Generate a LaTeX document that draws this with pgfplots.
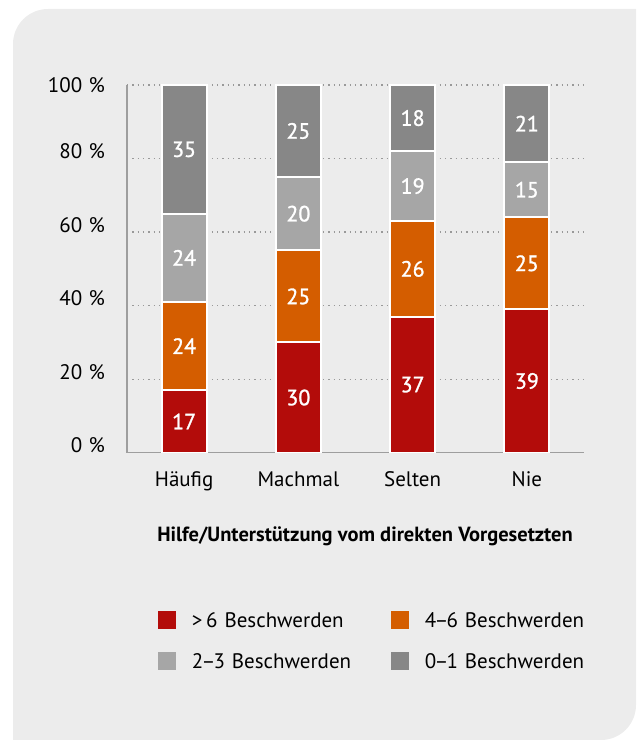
\documentclass[border=0pt]{standalone}
\usepackage{fontspec}
\setmainfont{PT Sans}
\newfontfamily\lblfont{PT Sans}[FakeBold=1.2]
\usepackage{pgfplots}
\pgfplotsset{compat=1.18}
\definecolor{panel}{HTML}{ECECEC}
\definecolor{cred}{HTML}{B30C0A}
\definecolor{corange}{HTML}{D45D00}
\definecolor{clight}{HTML}{A6A6A6}
\definecolor{cdark}{HTML}{878787}
\definecolor{axgray}{HTML}{9E9E9E}
\definecolor{gridgray}{HTML}{999999}
\newcommand{\ds}{\kern-0.09em--\kern-0.09em}
\begin{document}
\begin{tikzpicture}[font=\fontsize{21bp}{25bp}\selectfont]
\useasboundingbox (0,0) rectangle (638bp,740bp);
\fill[panel] (13bp,0bp) -- (13bp,696bp) arc[start angle=180,end angle=90,radius=35bp]
  -- (636bp,731bp) -- (636bp,35bp) arc[start angle=0,end angle=-90,radius=35bp] -- cycle;
\begin{axis}[
  at={(127bp,287.3bp)}, anchor=south west,
  scale only axis, width=457bp, height=367.7bp,
  xmin=-0.5, xmax=3.5, ymin=0, ymax=100,
  ybar stacked, bar width=45bp,
  axis lines=left, axis line style={-, draw=axgray, line width=1.2bp},
  xtick={0,1,2,3}, xticklabels={Häufig,Machmal,Selten,Nie},
  ytick={0,20,40,60,80},
  extra y ticks={100},
  extra y tick style={grid=major, yticklabel style={anchor=east, yshift=0pt}},
  /pgf/number format/assume math mode=true,
  yticklabel={\pgfmathprintnumber{\tick}\hspace{0.3em}\%},
  yticklabel style={anchor=base east, inner sep=0pt, xshift=-22bp},
  xticklabel style={anchor=base, inner sep=0pt, yshift=-33.8bp},
  major tick length=0pt,
  ymajorgrids, grid style={draw=gridgray, line width=1.2bp, dash pattern=on 1.3bp off 4bp},
  xlabel={\fontsize{20.5bp}{24bp}\selectfont\bfseries Hilfe/Unterstützung vom direkten Vorgesetzten},
  every axis x label/.style={at={(axis description cs:0.5208,0)}, anchor=base, yshift=-88.3bp},
  legend columns=2, legend cell align=left,
  legend style={at={(0.0678,-0.4305)}, anchor=north west, draw=none, fill=none,
    inner sep=0pt, outer sep=0pt, row sep=23bp,
    nodes={inner sep=0pt, text depth=0pt, text width=199bp, align=left, anchor=west},
    /tikz/every odd column/.style={column sep=16bp}},
  legend image code/.code={\path[#1,draw=none] (0bp,-9bp) rectangle (18bp,9bp);},
]
\addplot[fill=cred, draw=white, line width=2bp] coordinates {(0,17) (1,30) (2,37) (3,39)};
\addlegendentry{>\,6 Beschwerden}
\addplot[fill=corange, draw=white, line width=2bp] coordinates {(0,24) (1,25) (2,26) (3,25)};
\addlegendentry{4\ds6 Beschwerden}
\addplot[fill=clight, draw=white, line width=2bp] coordinates {(0,24) (1,20) (2,19) (3,15)};
\addlegendentry{2\ds3 Beschwerden}
\addplot[fill=cdark, draw=white, line width=2bp] coordinates {(0,35) (1,25) (2,18) (3,21)};
\addlegendentry{0\ds1 Beschwerden}
\draw[axgray, line width=1.2bp] (axis cs:-0.5,0) -- (axis cs:3.5,0);
\end{axis}
\begin{axis}[
  at={(127bp,287.3bp)}, anchor=south west,
  scale only axis, width=457bp, height=367.7bp,
  xmin=-0.5, xmax=3.5, ymin=0, ymax=100,
  hide axis, clip=false,
]
\addplot[draw=none, mark=none, nodes near coords, point meta=explicit symbolic,
  every node near coord/.append style={anchor=center, text=white, inner sep=0pt,
    font=\lblfont\fontsize{22bp}{26bp}\selectfont}]
  coordinates {
  (0,8.5) [17] (0,29) [24] (0,53) [24] (0,82.5) [35]
  (1,15) [30] (1,42.5) [25] (1,65) [20] (1,87.5) [25]
  (2,18.5) [37] (2,50) [26] (2,72.5) [19] (2,91) [18]
  (3,19.5) [39] (3,51.5) [25] (3,71.5) [15] (3,89.5) [21]
  };
\end{axis}
\end{tikzpicture}
\end{document}
